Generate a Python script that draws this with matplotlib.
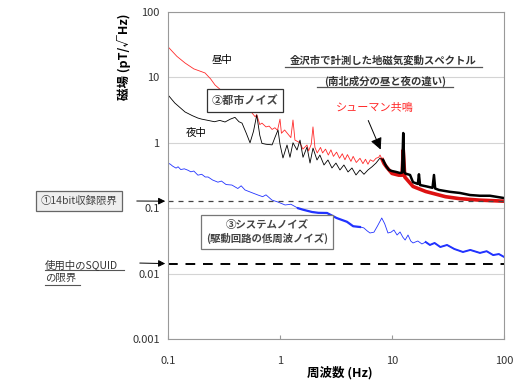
import numpy as np
import matplotlib
matplotlib.use("Agg")
import matplotlib.pyplot as plt
from matplotlib.ticker import FixedLocator, FixedFormatter, NullLocator

plt.rcParams["font.family"] = ["Noto Sans CJK JP", "DejaVu Sans"]

# 夜中 (night) spectrum, pT/sqrt(Hz)
night_f = [0.1, 0.115, 0.142, 0.165, 0.185, 0.2, 0.228, 0.26, 0.29, 0.323, 0.36, 0.396,
           0.43, 0.458, 0.5, 0.54, 0.58, 0.62, 0.66, 0.69, 0.75, 0.85, 0.9, 0.96, 1.0,
           1.063, 1.155, 1.228, 1.306, 1.419, 1.509, 1.605, 1.742, 1.854, 1.971, 2.14,
           2.27, 2.47, 2.68, 2.91, 3.16, 3.43, 3.72, 4.05, 4.39, 4.77, 5.18, 5.62, 6.1,
           6.63, 7.2, 7.82, 8.33, 8.86, 9.4, 10.0, 10.9, 11.8, 12.3, 12.6, 12.9, 13.1,
           14.5, 15.4, 17.0, 17.4, 17.8, 20.4, 23.0, 23.7, 24.3, 26.3, 32.9, 40.4, 49.7,
           61.0, 75.0, 100.0]
night_v = [5.4, 4.06, 2.96, 2.6, 2.39, 2.3, 2.2, 2.1, 2.2, 2.08, 2.3, 2.45,
           2.1, 2.0, 1.4, 1.0, 1.5, 2.66, 1.3, 0.98, 0.95, 0.93, 1.2, 1.57, 0.95,
           0.586, 0.925, 0.6, 1.0, 0.776, 1.1, 0.6, 0.86, 0.49, 0.83, 0.546,
           0.65, 0.458, 0.546, 0.412, 0.49, 0.384, 0.458, 0.358, 0.412, 0.322, 0.384, 0.33, 0.384,
           0.43, 0.49, 0.586, 0.546, 0.44, 0.384, 0.37, 0.358, 0.345, 0.35, 1.41, 0.36, 0.34,
           0.322, 0.25, 0.235, 0.33, 0.226, 0.215, 0.205, 0.322, 0.2, 0.19, 0.178, 0.171, 0.159,
           0.155, 0.155, 0.143]

# 昼中 (daytime) spectrum
day_f = [0.1, 0.12, 0.142, 0.17, 0.214, 0.24, 0.263, 0.3, 0.372, 0.45, 0.5, 0.563,
         0.6, 0.62, 0.66, 0.69, 0.75, 0.8, 0.85, 0.9, 0.95, 1.0, 1.03, 1.1, 1.25,
         1.306, 1.36, 1.509, 1.6, 1.742, 1.8, 1.9, 1.97, 2.05, 2.15, 2.3, 2.4, 2.55,
         2.7, 2.85, 3.0, 3.2, 3.4, 3.6, 3.8, 4.0, 4.3, 4.5, 4.8, 5.18, 5.5, 5.8, 6.1,
         6.4, 6.8, 7.2, 7.6, 7.82, 8.2, 8.5, 9.0, 10.0, 11.5, 12.3, 12.6, 13.0, 15.4,
         20.0, 30.0, 40.0, 60.0, 100.0]
day_v = [29.4, 21.0, 16.6, 13.5, 11.7, 9.5, 7.65, 6.3, 5.0, 3.9, 3.3, 2.86,
         2.5, 2.7, 1.9, 2.0, 1.75, 1.8, 1.6, 1.7, 1.55, 2.3, 1.4, 1.57, 1.2,
         2.23, 1.1, 1.0, 0.8, 0.925, 0.75, 0.95, 1.75, 0.85, 0.7, 0.85, 0.7, 0.8,
         0.65, 0.78, 0.62, 0.72, 0.58, 0.68, 0.55, 0.66, 0.52, 0.62, 0.5, 0.58, 0.48, 0.56, 0.47,
         0.55, 0.52, 0.58, 0.6, 0.65, 0.55, 0.48, 0.42, 0.34, 0.32, 0.32, 0.776, 0.3, 0.215,
         0.18, 0.15, 0.14, 0.133, 0.128]

# ③ システムノイズ
sys_f = [0.1, 0.105, 0.11, 0.118, 0.123, 0.13, 0.14, 0.151, 0.16, 0.17, 0.185, 0.2,
         0.215, 0.228, 0.25, 0.279, 0.3, 0.33, 0.372, 0.42, 0.45, 0.487, 0.55, 0.636,
         0.7, 0.75, 0.848, 0.95, 1.11, 1.25, 1.45, 1.6, 1.93, 2.2, 2.63, 3.2, 3.96,
         4.5, 5.18, 5.6, 6.0, 6.36, 6.9, 7.4, 8.1, 8.6, 9.2, 9.8, 10.4, 11.1, 11.8,
         12.5, 13.1, 13.9, 14.7, 15.4, 17.0, 18.5, 20.0, 21.8, 24.0, 27.0, 31.0, 36.0,
         43.0, 50.0, 61.0, 70.0, 80.0, 90.0, 100.0]
sys_v = [0.49, 0.47, 0.44, 0.41, 0.43, 0.39, 0.40, 0.38, 0.36, 0.37, 0.32, 0.33,
         0.30, 0.30, 0.27, 0.25, 0.26, 0.23, 0.226, 0.20, 0.22, 0.19, 0.175, 0.159,
         0.15, 0.16, 0.133, 0.125, 0.112, 0.115, 0.1, 0.095, 0.0875, 0.085, 0.0845, 0.0708, 0.062,
         0.053, 0.0516, 0.05, 0.045, 0.0418, 0.043, 0.053, 0.0708, 0.058, 0.0418, 0.043, 0.0464, 0.0389, 0.0433,
         0.036, 0.0326, 0.0389, 0.0315, 0.0294, 0.0315, 0.0284, 0.0304, 0.0274, 0.0294, 0.0255, 0.0274, 0.0238,
         0.0214, 0.023, 0.0207, 0.022, 0.0192, 0.0199, 0.018]

adc_limit = 0.128     # ① 14bit収録限界
squid_limit = 0.0142  # 使用中のSQUIDの限界

W, H = 518, 380


def fx(px):
    return px / W


def fy(py):
    return 1 - py / H


fig = plt.figure(figsize=(5.18, 3.80), dpi=100)
ax = fig.add_axes([fx(168), fy(339), fx(504) - fx(168), fy(12) - fy(339)])
ax.set_xscale("log")
ax.set_yscale("log")
ax.set_xlim(0.1, 100)
ax.set_ylim(0.001, 100)

nf, nv = np.array(night_f), np.array(night_v)
df, dv = np.array(day_f), np.array(day_v)
sf, sv = np.array(sys_f), np.array(sys_v)

ax.plot(sf, sv, color="#2233ff", lw=0.6)
m = (sf >= 1.3) & (sf <= 5.2)
ax.plot(sf[m], sv[m], color="#2233ff", lw=1.6)
m = sf >= 20
ax.plot(sf[m], sv[m], color="#2233ff", lw=1.4)

ax.plot(df, dv, color="#ff2a2a", lw=0.6)
m = df >= 8
ax.plot(df[m], dv[m], color="#dd1111", lw=2.6)
ax.plot(nf, nv, color="black", lw=0.6)
m = nf >= 8
ax.plot(nf[m], nv[m], color="black", lw=1.8)

ax.axhline(adc_limit, color="#444444", lw=0.9, ls=(0, (4, 4)))
ax.axhline(squid_limit, color="black", lw=1.4, ls=(0, (5, 4)))

ax.yaxis.set_major_locator(FixedLocator([0.001, 0.01, 0.1, 1, 10, 100]))
ax.yaxis.set_major_formatter(FixedFormatter(["0.001", "0.01", "0.1", "1", "10", "100"]))
ax.yaxis.set_minor_locator(NullLocator())
ax.xaxis.set_major_locator(FixedLocator([0.1, 1, 10, 100]))
ax.xaxis.set_major_formatter(FixedFormatter(["0.1", "1", "10", "100"]))
ax.xaxis.set_minor_locator(NullLocator())
ax.tick_params(axis="y", length=0, pad=6, labelsize=8, labelcolor="#333333")
ax.tick_params(axis="x", direction="in", length=3, pad=12, labelsize=8,
               labelcolor="#333333", color="#999999")
ax.grid(axis="y", color="#d4d4d4", lw=0.8)
ax.set_axisbelow(True)
for s in ax.spines.values():
    s.set_color("#999999")
    s.set_linewidth(0.8)

fig.text(fx(124), fy(57), "磁場 (pT/√Hz)", rotation=90, ha="center", va="center",
         fontsize=9, fontweight="bold")
fig.text(fx(340), fy(373), "周波数 (Hz)", ha="center", va="center",
         fontsize=9, fontweight="bold")

# annotations
fig.text(fx(222), fy(60), "昼中", ha="center", va="center", fontsize=7.5)
fig.text(fx(196), fy(133), "夜中", ha="center", va="center", fontsize=7.5)
fig.text(fx(245), fy(100), "②都市ノイズ", ha="center", va="center", fontsize=8,
         fontweight="bold", color="#444444",
         bbox=dict(boxstyle="square,pad=0.45", fc="white", ec="#333333", lw=0.9))
fig.text(fx(383), fy(61), "金沢市で計測した地磁気変動スペクトル", ha="center", va="center",
         fontsize=7.5, fontweight="bold", color="#333333")
fig.text(fx(385), fy(81), "(南北成分の昼と夜の違い)", ha="center", va="center",
         fontsize=7.5, fontweight="bold", color="#333333")
for y0, x0, x1 in [(67, 285, 482), (87, 317, 453)]:
    fig.add_artist(plt.Line2D([fx(x0), fx(x1)], [fy(y0), fy(y0)], color="#555555", lw=0.9))

fig.text(fx(375), fy(108), "シューマン共鳴", ha="center", va="center", fontsize=8,
         color="#ff2a2a")
ax.annotate("", xy=(8.1, 0.72), xytext=(6.0, 2.4),
            arrowprops=dict(arrowstyle="-|>,head_length=0.7,head_width=0.35",
                            color="black", lw=0.7))

fig.text(fx(79), fy(201), "①14bit収録限界", ha="center", va="center", fontsize=7.5,
         color="#444444",
         bbox=dict(boxstyle="square,pad=0.45", fc="#eeeeee", ec="#666666", lw=0.9))
ax.annotate("", xy=(0, adc_limit), xycoords=("axes fraction", "data"),
            xytext=(fx(134), fy(201)), textcoords="figure fraction",
            arrowprops=dict(arrowstyle="-|>", color="black", lw=0.7))

fig.text(fx(45), fy(271), "使用中のSQUID\nの限界", ha="left", va="center", fontsize=7.5,
         color="#333333", linespacing=1.4)
for y0, x0, x1 in [(270, 45, 124), (285, 45, 80)]:
    fig.add_artist(plt.Line2D([fx(x0), fx(x1)], [fy(y0), fy(y0)], color="#555555", lw=0.8))
ax.annotate("", xy=(0, squid_limit), xycoords=("axes fraction", "data"),
            xytext=(fx(137), fy(263)), textcoords="figure fraction",
            arrowprops=dict(arrowstyle="-|>", color="black", lw=0.7))

fig.text(fx(267), fy(232), "③システムノイズ\n(駆動回路の低周波ノイズ)", ha="center", va="center",
         fontsize=7.5, fontweight="bold", color="#444444", linespacing=1.3,
         bbox=dict(boxstyle="square,pad=0.5", fc="white", ec="#777777", lw=0.9))

fig.savefig("out.png", dpi=100)
